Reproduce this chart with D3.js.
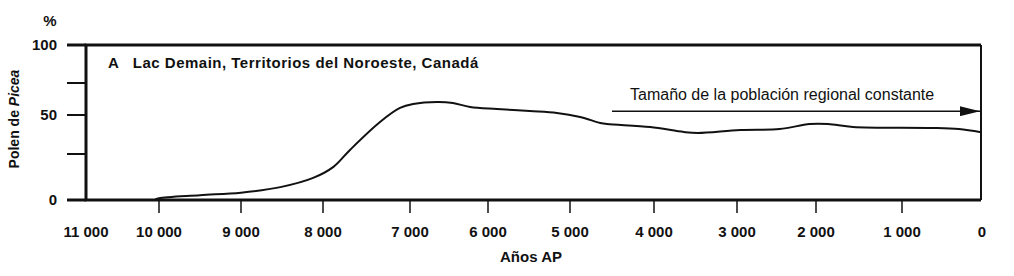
<!DOCTYPE html>
<html>
<head>
<meta charset="utf-8">
<script src="https://cdn.jsdelivr.net/npm/d3@7"></script>
<style>
    body { margin: 0; background: #fff; }
    svg { display: block; }
    text { font-family: "Liberation Sans", Arial, sans-serif; fill: #111; }
</style>
</head>
<body>
<svg id="chart" width="1014" height="276"></svg>
<script>
// years before present, tick labels along the bottom
var yearTicks = [11000, 10000, 9000, 8000, 7000, 6000, 5000, 4000, 3000, 2000, 1000, 0];
var yearLabels = ['11 000', '10 000', '9 000', '8 000', '7 000', '6 000',
    '5 000', '4 000', '3 000', '2 000', '1 000', '0'];
var pctTicks = [0, 25, 50, 75, 100];
var pctLabels = ['0', '', '50', '', '100'];

// Picea pollen curve
var years = [10050, 10000, 9500, 9000, 8520, 8120, 7880, 7690, 7345, 7115, 6960,
    6650, 6450, 6230, 5890, 5490, 5160, 4880, 4640, 4560, 4045, 3640, 3470,
    2960, 2460, 2080, 1860, 1570, 660, 280, 0];
var picea = [0.3, 1, 2.6, 4, 7, 12, 18, 27.6, 45.5, 55.5, 58.6,
    60.2, 59.4, 56.3, 54.7, 53.1, 51.6, 48.7, 44.9, 44.2, 42.3, 39.1, 38.5,
    40.4, 41, 44.2, 44.2, 42.3, 41.7, 41, 39];

// constant regional population arrow
var arrowFrom = 4500, arrowTo = 0, arrowLevel = 53;

var title = 'A   Lac Demain, Territorios del Noroeste, Canadá';
var note = 'Tamaño de la población regional constante';

var svg = d3.select('#chart');

// the printed axes are hand drawn, so the scales follow the printed tick spacing
var x = d3.scaleLinear()
    .domain(yearTicks)
    .range([86, 159, 241, 323, 410, 488, 570, 654, 737, 816, 902, 981]);
var y = d3.scaleLinear()
    .domain(pctTicks)
    .range([200, 154, 115, 83, 45]);

var fLeft = x(11000), fRight = x(0), fTop = y(100), fBottom = y(0);

// frame
svg.append('path')
    .attr('d', 'M' + fRight + ',' + fBottom + 'V' + fTop)
    .attr('stroke', '#111').attr('stroke-width', 2).attr('fill', 'none');
svg.append('path')
    .attr('d', 'M' + fRight + ',' + fTop + 'H' + fLeft + 'V' + fBottom + 'H' + fRight)
    .attr('stroke', '#111').attr('stroke-width', 3).attr('fill', 'none');

// y ticks, outside to the left
var yTick = svg.append('g');
yTick.selectAll('line')
    .data(pctTicks)
    .enter().append('line')
    .attr('x1', 67).attr('x2', fLeft)
    .attr('y1', function(d) { return y(d); })
    .attr('y2', function(d) { return y(d); })
    .attr('stroke', '#111')
    .attr('stroke-width', function(d) { return (d == 0 || d == 100) ? 3 : 2; });
yTick.selectAll('text')
    .data(pctTicks)
    .enter().append('text')
    .attr('x', 57)
    .attr('y', function(d) { return y(d) + 5; })
    .attr('text-anchor', 'end')
    .style('font-size', '15px').style('font-weight', 'bold')
    .text(function(d, i) { return pctLabels[i]; });

svg.append('text')
    .attr('x', 50).attr('y', 26)
    .attr('text-anchor', 'middle')
    .style('font-size', '15px').style('font-weight', 'bold')
    .text('%');

var ylab = svg.append('text')
    .attr('transform', 'translate(19,119) rotate(-90)')
    .attr('text-anchor', 'middle')
    .style('font-size', '14px').style('font-weight', 'bold');
ylab.append('tspan').text('Polen de ');
ylab.append('tspan').style('font-style', 'italic').text('Picea');

// x ticks below the frame
var xTick = svg.append('g');
xTick.selectAll('line')
    .data(yearTicks.filter(function(d) { return d != 11000 && d != 0; }))
    .enter().append('line')
    .attr('x1', function(d) { return x(d); })
    .attr('x2', function(d) { return x(d); })
    .attr('y1', fBottom).attr('y2', fBottom + 13)
    .attr('stroke', '#111').attr('stroke-width', 1.5);
xTick.selectAll('text')
    .data(yearTicks)
    .enter().append('text')
    .attr('x', function(d) { return x(d) + (d == 0 ? 1 : 0); })
    .attr('y', 237)
    .attr('text-anchor', 'middle')
    .style('font-size', '15px').style('font-weight', 'bold')
    .text(function(d, i) { return yearLabels[i]; });

svg.append('text')
    .attr('x', 531).attr('y', 262)
    .attr('text-anchor', 'middle')
    .style('font-size', '15px').style('font-weight', 'bold')
    .text('Años AP');

// title inside the frame
svg.append('text')
    .attr('x', 108).attr('y', 68)
    .style('font-size', '15px').style('font-weight', 'bold')
    .style('letter-spacing', '0.5px')
    .style('white-space', 'pre')
    .text(title);

// pollen curve
var pts = years.map(function(d, i) { return [x(d), y(picea[i])]; });
var line = d3.line().curve(d3.curveCatmullRom.alpha(0.5));
svg.append('path')
    .attr('d', line(pts))
    .attr('fill', 'none')
    .attr('stroke', '#111')
    .attr('stroke-width', 2);

// arrow + note
svg.append('defs').append('marker')
    .attr('id', 'head')
    .attr('viewBox', '0 0 20 10')
    .attr('refX', 20).attr('refY', 5)
    .attr('markerWidth', 20).attr('markerHeight', 10)
    .attr('markerUnits', 'userSpaceOnUse')
    .attr('orient', 'auto')
    .append('path')
    .attr('d', 'M0,0L20,5L0,10Z')
    .attr('fill', '#111');

svg.append('line')
    .attr('x1', x(arrowFrom)).attr('x2', x(arrowTo) - 1)
    .attr('y1', y(arrowLevel)).attr('y2', y(arrowLevel))
    .attr('stroke', '#111').attr('stroke-width', 1.5)
    .attr('marker-end', 'url(#head)');

svg.append('text')
    .attr('x', x(arrowFrom) + 18).attr('y', y(arrowLevel) - 11)
    .style('font-size', '16px')
    .text(note);
</script>
</body>
</html>
